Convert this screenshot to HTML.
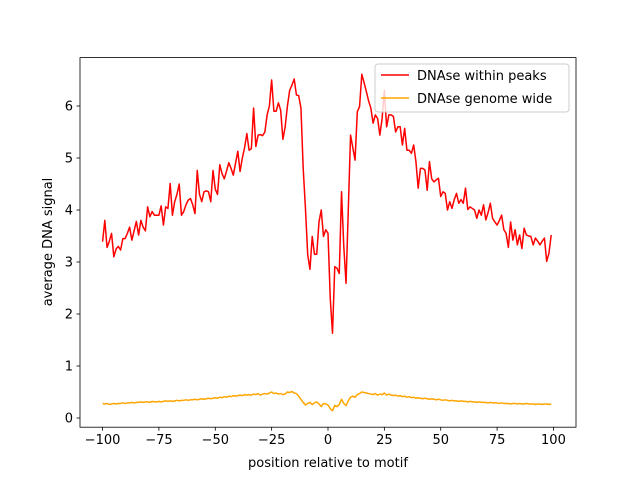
<!DOCTYPE html>
<html><head><meta charset="utf-8"><style>
body{margin:0;background:#fff}
svg{display:block;font-family:"DejaVu Sans","Liberation Sans",sans-serif}
</style></head><body>
<svg id="chart" width="640" height="480" viewBox="0 0 640 480" xmlns="http://www.w3.org/2000/svg">
<rect x="0" y="0" width="640" height="480" fill="#fff"/>
<g id="plot"></g>
<g id="axes"></g>
<rect x="80" y="57.6" width="496" height="369.6" fill="none" stroke="#000" stroke-width="0.8"/>
<g>
<rect x="375" y="64" width="194" height="48" rx="3" fill="#fff" fill-opacity="0.8" stroke="#ccc" stroke-width="1"/>
<line x1="381" y1="75" x2="409" y2="75" stroke="#ff0000" stroke-width="1.5"/>
<text x="417" y="80" font-size="13">DNAse within peaks</text>
<line x1="381" y1="98" x2="409" y2="98" stroke="#ffa500" stroke-width="1.5"/>
<text x="417" y="103" font-size="13">DNAse genome wide</text>
</g>
<text x="328" y="467" font-size="13" text-anchor="middle">position relative to motif</text>
<text x="0" y="0" font-size="13" text-anchor="middle" transform="translate(52,242) rotate(-90)">average DNA signal</text>
</svg>
<script>
const xStart = -100;
const peaksValues = [3.39,3.8,3.28,3.4,3.55,3.1,3.25,3.3,3.23,3.45,3.45,3.55,3.67,3.42,3.6,3.78,3.52,3.8,3.67,3.6,4.06,3.87,3.97,3.9,3.9,3.9,4.08,3.71,4.06,4.03,4.51,3.9,4.16,4.3,4.5,3.9,3.97,4.1,4.19,4.22,4.1,3.93,4.76,4.3,4.16,4.35,4.37,4.35,4.16,4.76,4.4,4.3,4.87,4.7,4.6,4.75,4.91,4.8,4.67,4.9,5.13,4.74,5.0,5.2,5.47,5.15,5.18,5.96,5.22,5.44,5.45,5.43,5.5,5.83,6.0,6.5,5.9,5.9,6.06,5.92,5.36,5.6,6.0,6.3,6.4,6.52,6.21,6.2,5.96,4.8,4.03,3.14,2.86,3.49,3.15,3.15,3.77,4.0,3.49,3.62,3.55,2.3,1.63,2.91,2.88,2.78,4.35,3.3,2.59,4.0,5.44,5.2,4.96,5.89,5.99,6.61,6.45,6.28,6.1,5.96,5.67,5.83,5.76,5.44,5.76,6.3,5.6,5.83,5.83,5.8,5.5,5.6,5.6,5.25,5.57,5.15,5.15,5.09,5.25,4.93,4.42,4.8,4.8,4.77,4.38,4.93,4.6,4.54,4.58,4.61,4.26,4.35,4.32,4.0,4.16,4.03,4.2,4.32,4.13,4.2,4.13,4.42,4.01,4.06,4.03,4.0,3.84,4.0,3.9,4.1,3.81,3.95,4.13,3.84,3.77,3.71,3.8,3.9,3.62,3.55,3.28,3.77,3.42,3.62,3.33,3.52,3.26,3.65,3.52,3.5,3.49,3.33,3.46,3.4,3.33,3.4,3.46,3.01,3.17,3.52];
const genomeValues = [0.28,0.27,0.28,0.26,0.27,0.28,0.27,0.28,0.28,0.29,0.28,0.29,0.29,0.30,0.29,0.30,0.30,0.31,0.30,0.31,0.31,0.30,0.32,0.31,0.31,
0.32,0.31,0.32,0.33,0.32,0.33,0.32,0.33,0.34,0.33,0.34,0.34,0.35,0.34,0.35,0.35,0.36,0.35,0.36,0.37,0.36,0.37,0.38,0.37,0.38,
0.39,0.38,0.40,0.39,0.41,0.40,0.42,0.41,0.43,0.42,0.43,0.44,0.43,0.45,0.44,0.45,0.44,0.46,0.45,0.47,0.44,0.46,0.47,0.46,0.48,
0.50,0.47,0.48,0.46,0.47,0.45,0.46,0.50,0.49,0.51,0.48,0.47,0.42,0.36,0.30,0.25,0.28,0.30,0.26,0.29,0.31,0.27,0.22,0.28,0.27,
0.25,0.18,0.14,0.24,0.22,0.26,0.36,0.28,0.24,0.33,0.40,0.42,0.40,0.45,0.47,0.50,0.49,0.48,0.47,0.46,0.45,0.47,0.44,0.46,0.45,
0.48,0.44,0.46,0.44,0.43,0.44,0.42,0.43,0.41,0.42,0.40,0.41,0.39,0.40,0.38,0.39,0.38,0.37,0.38,0.37,0.36,0.37,0.36,0.35,0.36,
0.35,0.34,0.35,0.34,0.33,0.34,0.33,0.33,0.32,0.33,0.32,0.32,0.31,0.32,0.31,0.31,0.30,0.31,0.30,0.30,0.30,0.29,0.30,0.29,0.29,
0.29,0.28,0.29,0.28,0.28,0.28,0.27,0.28,0.28,0.27,0.28,0.27,0.27,0.28,0.27,0.27,0.27,0.26,0.27,0.27,0.26,0.27,0.27,0.26,0.27];
const xTicks = [-100,-75,-50,-25,0,25,50,75,100];
const yTicks = [0,1,2,3,4,5,6];

const NS = "http://www.w3.org/2000/svg";
const L = 80, R = 576, T = 57.6, B = 427.2;
function xs(v){ return L + (v - (-110)) / 220 * (R - L); }
function ys(v){ return 418 - v * 52; }
const plot = document.getElementById('plot');
const axes = document.getElementById('axes');

function series(vals, color, name){
  const p = document.createElementNS(NS, 'path');
  
  
  let d = '';
  vals.forEach((v, i) => { d += (i ? 'L' : 'M') + xs(xStart + i).toFixed(2) + ',' + ys(v).toFixed(2); });
  p.setAttribute('d', d);
  p.setAttribute('fill', 'none');
  p.setAttribute('stroke', color);
  p.setAttribute('stroke-width', '1.5');
  p.setAttribute('stroke-linejoin', 'round');
  plot.appendChild(p);
}
series(peaksValues, '#ff0000', 'line-dnase-within-peaks');
series(genomeValues, '#ffa500', 'line-dnase-genome-wide');

xTicks.forEach(t => {
  const x = xs(t);
  const ln = document.createElementNS(NS, 'line');
  
  
  ln.setAttribute('x1', x); ln.setAttribute('x2', x);
  ln.setAttribute('y1', B); ln.setAttribute('y2', B + 3.5);
  ln.setAttribute('stroke', '#000'); ln.setAttribute('stroke-width', '0.8');
  axes.appendChild(ln);
  const tx = document.createElementNS(NS, 'text');
  
  
  tx.setAttribute('x', x); tx.setAttribute('y', B + 17);
  tx.setAttribute('font-size', '13'); tx.setAttribute('text-anchor', 'middle');
  tx.textContent = t < 0 ? '\u2212' + Math.abs(t) : String(t);
  axes.appendChild(tx);
});
yTicks.forEach(t => {
  const y = ys(t);
  const ln = document.createElementNS(NS, 'line');
  
  
  ln.setAttribute('x1', L - 3.5); ln.setAttribute('x2', L);
  ln.setAttribute('y1', y); ln.setAttribute('y2', y);
  ln.setAttribute('stroke', '#000'); ln.setAttribute('stroke-width', '0.8');
  axes.appendChild(ln);
  const tx = document.createElementNS(NS, 'text');
  
  
  tx.setAttribute('x', L - 7); tx.setAttribute('y', y + 4.5);
  tx.setAttribute('font-size', '13'); tx.setAttribute('text-anchor', 'end');
  tx.textContent = String(t);
  axes.appendChild(tx);
});
</script>
</body></html>
